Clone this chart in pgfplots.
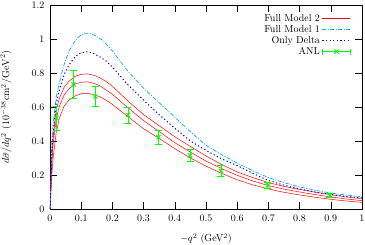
\documentclass[border=0pt]{standalone}
\usepackage{pgfplots}
\pgfplotsset{compat=1.18}
\begin{document}
\begin{tikzpicture}
\useasboundingbox (-50pt,-35.7pt) rectangle (315pt,209pt);
\begin{axis}[
  scale only axis, width=312pt, height=204pt,
  xmin=0, xmax=1, ymin=0, ymax=1.2,
  xtick={0,0.1,0.2,0.3,0.4,0.5,0.6,0.7,0.8,0.9,1},
  xticklabels={0,0.1,0.2,0.3,0.4,0.5,0.6,0.7,0.8,0.9,1},
  ytick={0,0.2,0.4,0.6,0.8,1,1.2},
  yticklabels={0,0.2,0.4,0.6,0.8,1,1.2},
  tick align=inside, major tick length=7pt,
  tick style={black, line width=0.5pt},
  axis line style={line width=0.7pt},
  xticklabel style={yshift=-2pt},
  yticklabel style={xshift=-2pt},
  xlabel={$-q^2$ (GeV$^2$)},
  ylabel={$d\bar{\sigma}/dq^2$ $(10^{-38}\mathrm{cm}^2/\mathrm{GeV}^2)$},
  every axis x label/.style={at={(axis description cs:0.5,-0.147)}, anchor=center},
  every axis y label/.style={at={(axis description cs:-0.141,0.5)}, rotate=90, anchor=center},
  legend style={draw=none, fill=none, at={(0.975,0.975)}, anchor=north east,
    cells={anchor=east}, row sep=-1.5pt},
  legend plot pos=right,
  legend image code/.code={\draw[#1] (0pt,0pt) -- (28pt,0pt);},
]
% Full Model 2 (three red curves)
\addplot[red, line width=0.5pt] coordinates {
(0.0005,0) (0.005,0.28) (0.01,0.42) (0.02,0.585) (0.03,0.65) (0.045,0.715) (0.06,0.75) (0.08,0.78) (0.1,0.792) (0.12,0.795) (0.14,0.787) (0.16,0.772) (0.18,0.75) (0.2,0.722) (0.25,0.635) (0.3,0.555) (0.35,0.49) (0.4,0.425) (0.45,0.368) (0.5,0.312) (0.55,0.262) (0.6,0.218) (0.65,0.185) (0.7,0.155) (0.75,0.133) (0.8,0.115) (0.85,0.099) (0.9,0.084) (0.95,0.071) (1.0,0.06)};
\addlegendentry{Full Model 2}
\addplot[red, line width=0.5pt, forget plot] coordinates {
(0.0005,0) (0.005,0.24) (0.01,0.38) (0.02,0.53) (0.03,0.605) (0.045,0.67) (0.06,0.705) (0.08,0.735) (0.1,0.746) (0.12,0.748) (0.14,0.74) (0.16,0.725) (0.18,0.70) (0.2,0.675) (0.25,0.595) (0.3,0.52) (0.35,0.455) (0.4,0.39) (0.45,0.335) (0.5,0.282) (0.55,0.238) (0.6,0.198) (0.65,0.165) (0.7,0.138) (0.75,0.117) (0.8,0.10) (0.85,0.085) (0.9,0.071) (0.95,0.059) (1.0,0.049)};
\addplot[red, line width=0.5pt, forget plot] coordinates {
(0.0005,0) (0.005,0.18) (0.01,0.30) (0.02,0.45) (0.03,0.535) (0.045,0.605) (0.06,0.64) (0.08,0.665) (0.1,0.678) (0.12,0.68) (0.14,0.673) (0.16,0.66) (0.18,0.64) (0.2,0.615) (0.25,0.543) (0.3,0.472) (0.35,0.415) (0.4,0.355) (0.45,0.30) (0.5,0.252) (0.55,0.21) (0.6,0.172) (0.65,0.142) (0.7,0.118) (0.75,0.098) (0.8,0.083) (0.85,0.069) (0.9,0.057) (0.95,0.047) (1.0,0.039)};
% Full Model 1
\addplot[cyan, line width=0.7pt, dash pattern=on 4pt off 1.5pt on 1pt off 1.5pt] coordinates {
(0.0005,0) (0.005,0.36) (0.01,0.50) (0.02,0.66) (0.03,0.745) (0.045,0.85) (0.06,0.925) (0.075,0.975) (0.09,1.01) (0.11,1.035) (0.13,1.032) (0.15,1.015) (0.17,0.99) (0.2,0.93) (0.25,0.81) (0.3,0.71) (0.35,0.625) (0.4,0.54) (0.45,0.455) (0.5,0.375) (0.55,0.32) (0.6,0.27) (0.65,0.225) (0.7,0.185) (0.75,0.155) (0.8,0.13) (0.85,0.11) (0.9,0.094) (0.95,0.082) (1.0,0.072)};
\addlegendentry{Full Model 1}
% Only Delta
\addplot[blue, line width=1pt, dash pattern=on 1.2pt off 2.4pt] coordinates {
(0.0005,0) (0.005,0.30) (0.01,0.45) (0.02,0.62) (0.03,0.70) (0.045,0.79) (0.06,0.845) (0.08,0.895) (0.1,0.92) (0.12,0.925) (0.14,0.915) (0.16,0.895) (0.18,0.87) (0.2,0.835) (0.25,0.73) (0.3,0.64) (0.35,0.555) (0.4,0.475) (0.45,0.40) (0.5,0.345) (0.55,0.295) (0.6,0.255) (0.65,0.21) (0.7,0.168) (0.75,0.14) (0.8,0.118) (0.85,0.10) (0.9,0.085) (0.95,0.074) (1.0,0.065)};
\addlegendentry{Only Delta}
% ANL data
\addplot[green, only marks, mark=x, mark size=3pt, line width=0.9pt,
  legend image code/.code={
    \draw[green, line width=0.9pt] (0pt,0pt) -- (28pt,0pt) (0pt,-3pt) -- (0pt,3pt) (28pt,-3pt) -- (28pt,3pt);
    \draw[green, line width=0.9pt] plot[mark=x, mark size=3pt] coordinates {(14pt,0pt)};},
  error bars/.cd, y dir=both, y explicit,
  error mark options={green, mark size=3.5pt, line width=0.9pt, rotate=90},
  error bar style={green, line width=0.9pt}]
  coordinates {
(0.021,0.535) +- (0,0.07)
(0.075,0.733) +- (0,0.08)
(0.145,0.662) +- (0,0.058)
(0.25,0.553) +- (0,0.047)
(0.348,0.422) +- (0,0.04)
(0.449,0.314) +- (0,0.035)
(0.548,0.223) +- (0,0.031)
(0.698,0.139) +- (0,0.02)
(0.897,0.08) +- (0,0.012)};
\addlegendentry{ANL}
\end{axis}
\end{tikzpicture}
\end{document}
